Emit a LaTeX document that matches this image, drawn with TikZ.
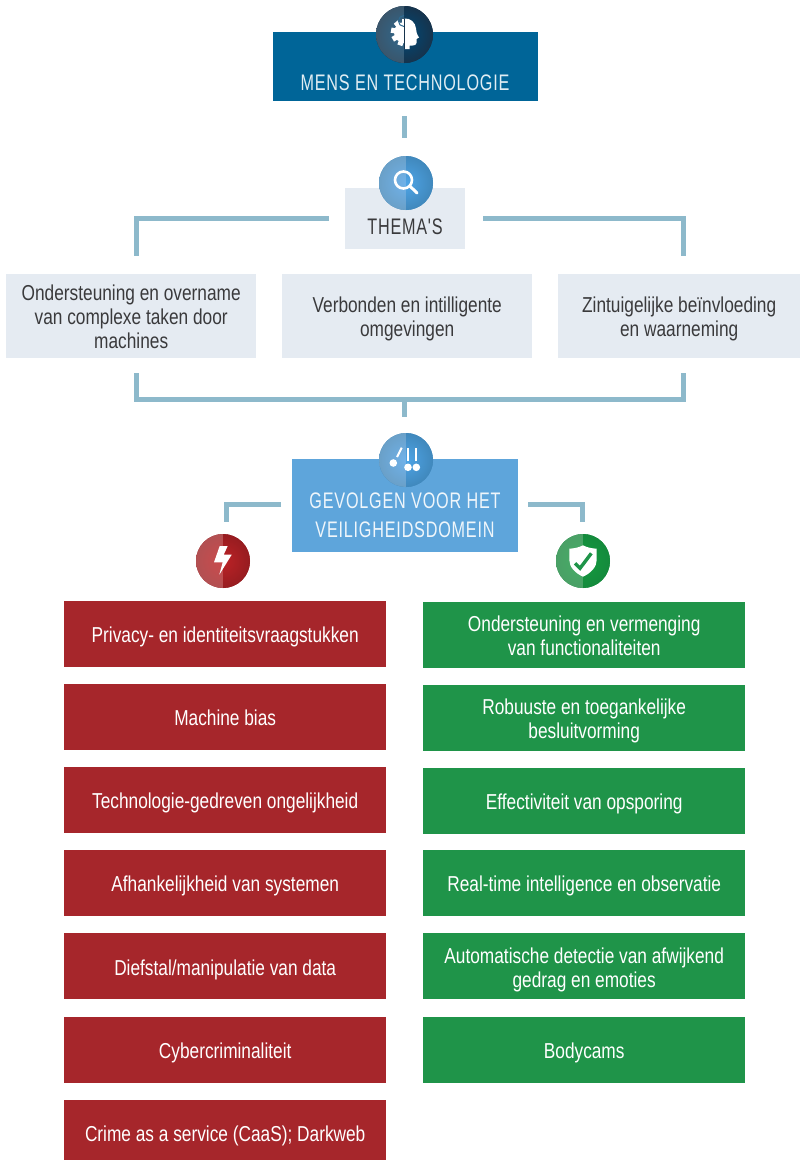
\documentclass[tikz,border=0pt]{standalone}
\usepackage{fontspec}
\setmainfont[FakeStretch=0.80]{Liberation Sans}
\newfontfamily\headfont[FakeStretch=0.72,LetterSpace=3.5]{Liberation Sans}
\usetikzlibrary{calc}
\definecolor{topblue}{HTML}{006598}
\definecolor{pale}{HTML}{E5EBF2}
\definecolor{midblue}{HTML}{5EA5DB}
\definecolor{linkc}{HTML}{8DB9CB}
\definecolor{redbox}{HTML}{A6262B}
\definecolor{greenbox}{HTML}{1F9449}
\definecolor{txt}{HTML}{3A3A3C}
\newcommand{\droptext}[1]{\rule{0pt}{\dimexpr15.6pt+2\dimexpr#1pt\relax\relax}}
\tikzset{
  x=1pt,y=-1pt,
  tdy/.style={execute at begin node={\rule{0pt}{\dimexpr19.5pt+2\dimexpr#1pt\relax\relax}}},
  box/.style={draw=none,inner sep=0pt,align=center,anchor=north west,font=\fontsize{21.6}{24}\selectfont},
  thembox/.style={box,fill=pale,text=txt},
  redb/.style={box,fill=redbox,text=white,minimum width=322pt},
  greenb/.style={box,fill=greenbox,text=white,minimum width=322pt},
  link/.style={draw=linkc,line width=5pt,line cap=butt,line join=miter},
  head/.style={inner sep=0pt,align=center,font=\headfont\fontsize{22.5}{28.5}\selectfont},
}
\newcommand{\badge}[8]{% name,x,y,r,left inner,left outer,right inner,right outer
  \node[circle,minimum size=#4*2,inner sep=0pt,fill=#8] (#1) at (#2,#3) {};
  \begin{scope}
    \clip (#2,#3) circle[radius=#4];
    \begin{scope}
      \clip (#2-#4,#3-#4) rectangle (#2,#3+#4);
      \shade[inner color=#5,outer color=#6] (#2-#4,#3-#4) rectangle (#2+#4,#3+#4);
    \end{scope}
    \begin{scope}
      \clip (#2,#3-#4) rectangle (#2+#4,#3+#4);
      \shade[inner color=#7,outer color=#8] (#2-#4,#3-#4) rectangle (#2+#4,#3+#4);
    \end{scope}
  \end{scope}}
\definecolor{bal}{HTML}{2F6A90}\definecolor{bao}{HTML}{3A566C}
\definecolor{bar}{HTML}{004A78}\definecolor{baq}{HTML}{16334C}
\definecolor{bbl}{HTML}{70B2EA}\definecolor{bbo}{HTML}{6AA0C8}
\definecolor{bbr}{HTML}{4EA4E6}\definecolor{bbq}{HTML}{4088BC}
\definecolor{rl}{HTML}{CC4A4C}\definecolor{ro}{HTML}{B25052}
\definecolor{rr}{HTML}{BC2226}\definecolor{rq}{HTML}{961C20}
\definecolor{gl}{HTML}{45AF66}\definecolor{go}{HTML}{4AA066}
\definecolor{gr}{HTML}{149C40}\definecolor{gq}{HTML}{148A3C}
\begin{document}
\begin{tikzpicture}
\useasboundingbox (0,0) rectangle (800,1160);
% connector end points
\coordinate (c1a) at (404.5,116);
\coordinate (c1b) at (404.5,138);
\coordinate (tl) at (329,218.5);
\coordinate (tlc) at (136,218.5);
\coordinate (tld) at (136,256);
\coordinate (tr) at (483,218.5);
\coordinate (trc) at (683,218.5);
\coordinate (trd) at (683,256);
\coordinate (bl) at (136,373);
\coordinate (blc) at (136,399);
\coordinate (br) at (683,373);
\coordinate (brc) at (683,399);
\coordinate (bm) at (404.5,399);
\coordinate (bme) at (404.5,417);
\coordinate (cgl) at (281,504.5);
\coordinate (glc) at (226,504.5);
\coordinate (gld) at (226,521.5);
\coordinate (cgr) at (528,504.5);
\coordinate (grc) at (582,504.5);
\coordinate (grd) at (582,521.5);
\draw[link] (c1a) -- (c1b);
\draw[link] (tl) -- (tlc) -- (tld);
\draw[link] (tr) -- (trc) -- (trd);
\draw[link] (bl) -- (blc) -- (brc) -- (br);
\draw[link] (bm) -- (bme);
\draw[link] (cgl) -- (glc) -- (gld);
\draw[link] (cgr) -- (grc) -- (grd);
% top boxes
\node[box,fill=topblue,text=white,minimum width=265pt,minimum height=69pt] (mens) at (273,32) {};
\node[head,text=white!88!topblue] (menst) at (405,83) {MENS EN TECHNOLOGIE};
\node[thembox,minimum width=120pt,minimum height=61pt] (thema) at (345,188) {};
\node[head,text=txt] (themat) at (405,227) {THEMA'S};
\node[thembox,minimum width=250pt,minimum height=84pt] (t1) at (6,274) {\droptext{1}Ondersteuning en overname\\van complexe taken door\\machines};
\node[thembox,minimum width=250pt,minimum height=84pt] (t2) at (282,274) {\droptext{3}Verbonden en intilligente\\omgevingen};
\node[thembox,minimum width=242pt,minimum height=84pt] (t3) at (558,274) {\droptext{3}Zintuigelijke beïnvloeding\\en waarneming};
\node[box,fill=midblue,minimum width=226pt,minimum height=93pt] (gev) at (292,459) {};
\node[head,text=white!90!midblue] (gevt) at (405,515) {GEVOLGEN VOOR HET\\VEILIGHEIDSDOMEIN};
% red boxes
\node[redb,minimum height=66pt,tdy=0.5] (r1) at (64,601) {Privacy- en identiteitsvraagstukken};
\node[redb,minimum height=66pt,tdy=-1.5] (r2) at (64,684) {Machine bias};
\node[redb,minimum height=66pt,tdy=1] (r3) at (64,767) {Technologie-gedreven ongelijkheid};
\node[redb,minimum height=66pt,tdy=1] (r4) at (64,850) {Afhankelijkheid van systemen};
\node[redb,minimum height=66pt,tdy=1.5] (r5) at (64,933) {Diefstal/manipulatie van data};
\node[redb,minimum height=66pt,tdy=1] (r6) at (64,1017) {Cybercriminaliteit};
\node[redb,minimum height=60pt,tdy=4] (r7) at (64,1100) {Crime as a service (CaaS); Darkweb};
% green boxes
\node[greenb,minimum height=66pt] (g1) at (423,602) {\droptext{1}Ondersteuning en vermenging\\van functionaliteiten};
\node[greenb,minimum height=66pt] (g2) at (423,685) {\droptext{3}Robuuste en toegankelijke\\besluitvorming};
\node[greenb,minimum height=66pt,tdy=1] (g3) at (423,768) {Effectiviteit van opsporing};
\node[greenb,minimum height=66pt,tdy=1] (g4) at (423,850) {Real-time intelligence en observatie};
\node[greenb,minimum height=66pt] (g5) at (423,933) {\droptext{4}Automatische detectie van afwijkend\\gedrag en emoties};
\node[greenb,minimum height=66pt,tdy=1] (g6) at (423,1017) {Bodycams};
% badges
\badge{b1}{404.5}{34.5}{28.5}{bal}{bao}{bar}{baq}
\badge{b2}{406}{183}{27}{bbl}{bbo}{bbr}{bbq}
\badge{b3}{406}{460}{27}{bbl}{bbo}{bbr}{bbq}
\badge{b4}{223}{561}{27}{rl}{ro}{rr}{rq}
\badge{b5}{583}{561}{27}{gl}{go}{gr}{gq}
% gear / head icon
\begin{scope}[shift={(404.5,34.5)}]
  \fill[white] (0,-16) .. controls (6,-16.5) and (11,-12) .. (11.5,-6) .. controls (11.7,-3) and (12,-1) .. (14.5,3) -- (12,4.5) -- (12.2,8) .. controls (12.2,10.5) and (10,11) .. (8,11) -- (5,11) -- (5,14.5) -- (0,14.5) -- cycle;
  \begin{scope}
    \clip (-16,-16) rectangle (-0.6,14);
    \fill[white] (0,-2) circle[radius=10.5];
    \foreach \a in {90,130,170,210,250,-70}{
      \fill[white,shift={(0,-2)},rotate=\a] (7,-2.6) rectangle (13.6,2.6);
    }
  \end{scope}
  \draw[bal,line width=1pt] (-0.6,-8) arc[start angle=90,end angle=270,radius=5.5];
  \draw[baq,line width=0.8pt] (0,-16) -- (0,14.5);
\end{scope}
% magnifier
\begin{scope}[shift={(406,183)}]
  \draw[white,line width=2.6pt] (-2.5,-3) circle[radius=8.5];
  \draw[white,line width=3pt,line cap=round] (3.8,3) -- (11,10);
\end{scope}
% pendulum icon
\begin{scope}[shift={(406,460)}]
  \fill[white] (-12.7,3) circle[radius=3.8];
  \fill[white] (2,7.3) circle[radius=3.8];
  \fill[white] (10.3,7.3) circle[radius=3.8];
  \draw[white,line width=2pt] (-9,-3) -- (-4.3,-12.3);
  \draw[white,line width=2pt] (2,1.3) -- (2,-12);
  \draw[white,line width=2pt] (10.3,1.3) -- (10.3,-12);
\end{scope}
% lightning
\begin{scope}[shift={(223,561)}]
  \fill[white] (-3.3,-15) -- (4.7,-15) -- (0.7,-6.3) -- (8.7,-6.3) -- (-3.7,13.7) -- (-0.3,1.3) -- (-9,1.3) -- cycle;
\end{scope}
% shield
\begin{scope}[shift={(583,561)}]
  \fill[white] (0,-15.7) .. controls (4,-13.5) and (9,-12.5) .. (13.7,-12.3) -- (13.7,-1) .. controls (13.7,6) and (8,12) .. (0,15.7) .. controls (-8,12) and (-13.7,6) .. (-13.7,-1) -- (-13.7,-12.3) .. controls (-9,-12.5) and (-4,-13.5) .. (0,-15.7) -- cycle;
  \draw[greenbox,line width=3.4pt] (-8,2.3) -- (-3,7.3) -- (8.3,-7.7);
\end{scope}
\end{tikzpicture}
\end{document}
